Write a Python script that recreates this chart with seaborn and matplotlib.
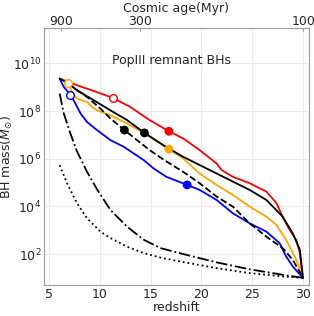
import numpy as np
import pandas as pd
import matplotlib
matplotlib.use("Agg")
import matplotlib.pyplot as plt
import seaborn as sns

# значения: redshift и log10(M/Msun)
z_red = [6.05, 7.76, 9.4, 11.27, 13.0, 14.9, 16.8, 18.2, 19.83, 21.5, 22.0, 23.1, 24.75, 26.4, 27.4, 28.0, 28.7, 29.35, 29.7, 30.0]
m_red = [9.36, 9.08, 8.84, 8.55, 8.17, 7.62, 7.15, 6.85, 6.36, 5.8, 5.52, 5.24, 4.97, 4.62, 4.13, 3.57, 3.01, 2.59, 2.04, 1.0]

z_black = [6.05, 6.94, 7.76, 9.4, 11.04, 12.68, 14.4, 16.5, 18.2, 21.5, 24.75, 26.4, 28.0, 29.0, 29.7, 30.0]
m_black = [9.36, 9.15, 8.87, 8.45, 8.03, 7.62, 7.08, 6.5, 6.08, 5.38, 4.69, 4.27, 3.57, 2.87, 2.18, 1.0]

z_orange = [6.05, 6.84, 7.27, 7.76, 8.74, 9.23, 9.72, 11.04, 12.68, 14.4, 16.8, 18.2, 19.83, 21.5, 23.1, 24.75, 26.4, 27.4, 28.35, 29.35, 30.0]
m_orange = [9.36, 9.19, 8.8, 8.52, 8.38, 8.17, 8.03, 7.82, 7.48, 7.06, 6.4, 6.01, 5.38, 4.9, 4.48, 3.99, 3.57, 3.22, 2.59, 1.76, 1.0]

z_blue = [6.05, 6.45, 7.1, 7.6, 8.1, 8.74, 9.72, 11.04, 12.35, 13.34, 14.32, 15.3, 16.55, 18.6, 19.83, 21.5, 23.1, 24.75, 26.4, 27.7, 28.35, 29.0, 30.0]
m_blue = [9.36, 9.01, 8.69, 8.31, 7.9, 7.54, 7.2, 6.78, 6.5, 6.22, 5.94, 5.59, 5.24, 4.9, 4.69, 4.27, 3.71, 3.29, 2.94, 2.46, 1.9, 1.48, 1.0]

z_dash = [6.94, 7.5, 8.74, 10.06, 11.04, 12.42, 13.66, 14.9, 16.5, 18.2, 19.83, 21.5, 23.1, 24.75, 26.4, 28.0, 29.0, 30.0]
m_dash = [9.15, 8.95, 8.59, 8.1, 7.69, 7.2, 6.78, 6.36, 5.9, 5.45, 4.97, 4.41, 3.99, 3.29, 2.73, 2.25, 1.76, 1.0]

z_dashdot = [6.05, 6.45, 7.1, 7.76, 8.74, 9.72, 11.04, 12.68, 14.32, 15.96, 18.2, 21.5, 24.75, 28.0, 30.0]
m_dashdot = [8.73, 7.9, 7.06, 6.3, 5.45, 4.72, 3.85, 3.15, 2.6, 2.25, 2.0, 1.65, 1.36, 1.13, 1.0]

z_dot = [6.05, 6.77, 7.76, 8.74, 10.06, 11.04, 12.68, 14.32, 15.96, 18.0, 21.5, 24.75, 28.0, 30.0]
m_dot = [5.73, 4.97, 4.13, 3.5, 2.94, 2.67, 2.31, 2.04, 1.85, 1.68, 1.41, 1.2, 1.06, 1.0]

# маркеры
mk_filled_z = [12.42, 14.4, 16.8, 16.8, 18.6]
mk_filled_m = [7.2, 7.08, 7.15, 6.4, 4.9]
mk_filled_c = ["black", "black", "red", "orange", "blue"]
mk_open_z = [11.27, 6.84, 7.1]
mk_open_m = [8.55, 9.19, 8.69]
mk_open_c = ["red", "orange", "blue"]

age_ticks = [900, 300, 100]

sns.set_style("whitegrid", {"grid.color": "#ebebeb", "axes.edgecolor": "#a0a0a0"})
plt.rcParams['font.family'] = ['DejaVu Sans']

fig, ax = plt.subplots(figsize=(3.14, 3.16), dpi=100)
fig.subplots_adjust(left=0.14, right=0.984, top=0.911, bottom=0.098)

series = [
    (z_red, m_red, "red", "-"),
    (z_orange, m_orange, "orange", "-"),
    (z_blue, m_blue, "blue", "-"),
    (z_black, m_black, "black", "-"),
    (z_dash, m_dash, "black", "--"),
    (z_dashdot, m_dashdot, "black", "-."),
    (z_dot, m_dot, "black", ":"),
]
for zz, mm, c, ls in series:
    sns.lineplot(x=zz, y=10 ** np.array(mm), color=c, linestyle=ls, lw=1.3,
                 estimator=None, sort=False, ax=ax)

sns.scatterplot(x=mk_filled_z, y=10 ** np.array(mk_filled_m), hue=mk_filled_c,
                palette={c: c for c in set(mk_filled_c)}, s=40, edgecolor="none",
                legend=False, zorder=5, ax=ax)
for zz, mm, c in zip(mk_open_z, mk_open_m, mk_open_c):
    ax.plot(zz, 10 ** mm, "o", mfc="white", mec=c, ms=5.5, mew=1.0, zorder=5)

ax.set_yscale("log")
ax.set_xlim(4.5, 30.6)
ax.set_ylim(5, 3e11)
ax.set_xticks([5, 10, 15, 20, 25, 30])
ax.set_yticks([1e2, 1e4, 1e6, 1e8, 1e10])
ax.minorticks_off()
ax.tick_params(labelsize=9, length=0, pad=2)
ax.set_xlabel("redshift", fontsize=9, labelpad=0)
ax.set_ylabel(r"BH mass($M_{\odot}$)", fontsize=9)
ax.yaxis.set_label_coords(-0.11, 0.5)
ax.text(0.48, 0.875, "PopIII remnant BHs", transform=ax.transAxes,
        ha="center", va="center", fontsize=9)

# верхняя ось: возраст Вселенной (приближение для эпохи материи)
def age_to_z(t_myr):
    return (17290.0 / t_myr) ** (2.0 / 3.0) - 1.0

ax2 = ax.twiny()
ax2.set_xlim(ax.get_xlim())
ax2.set_xticks([age_to_z(t) for t in age_ticks])
ax2.set_xticklabels([str(t) for t in age_ticks])
ax2.grid(False)
ax2.tick_params(labelsize=9, length=2, pad=0, direction="in", color="#a0a0a0")
ax2.set_xlabel("Cosmic age(Myr)", fontsize=9, labelpad=2)

fig.savefig("out.png", dpi=100)
